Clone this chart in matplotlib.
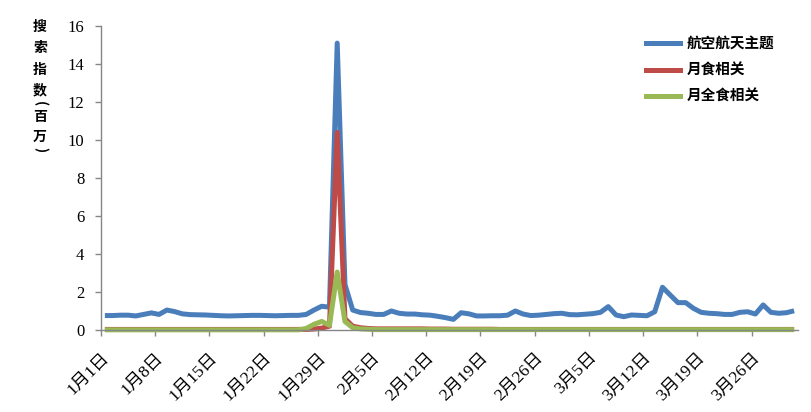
import matplotlib
matplotlib.use("Agg")
import matplotlib.pyplot as plt
from matplotlib.lines import Line2D

# ---- data (daily, 2018-01-01 .. 2018-03-31) ----
blue = [0.76, 0.76, 0.78, 0.78, 0.74, 0.82, 0.90, 0.82, 1.05, 0.97,
        0.85, 0.81, 0.80, 0.79, 0.77, 0.75, 0.74, 0.75, 0.76, 0.77,
        0.77, 0.76, 0.75, 0.76, 0.77, 0.77, 0.82, 1.05, 1.25, 1.20,
        15.10, 2.40, 1.05, 0.92, 0.88, 0.82, 0.82, 1.00, 0.88, 0.84,
        0.84, 0.80, 0.78, 0.72, 0.65, 0.56, 0.91, 0.85, 0.74, 0.74,
        0.75, 0.75, 0.78, 1.00, 0.84, 0.76, 0.78, 0.82, 0.86, 0.88,
        0.81, 0.80, 0.83, 0.86, 0.93, 1.23, 0.79, 0.70, 0.79, 0.77,
        0.75, 0.96, 2.25, 1.84, 1.44, 1.44, 1.14, 0.93, 0.88, 0.86,
        0.82, 0.82, 0.93, 0.96, 0.84, 1.32, 0.93, 0.88, 0.91, 1.01]
red = [0.03, 0.03, 0.03, 0.03, 0.03, 0.03, 0.03, 0.03, 0.03, 0.03,
       0.03, 0.03, 0.03, 0.03, 0.03, 0.03, 0.03, 0.03, 0.03, 0.03,
       0.03, 0.03, 0.03, 0.03, 0.03, 0.03, 0.03, 0.05, 0.10, 0.20,
       10.40, 0.60, 0.20, 0.12, 0.08, 0.06, 0.06, 0.06, 0.06, 0.06,
       0.06, 0.06, 0.05, 0.05, 0.05, 0.04, 0.04, 0.04, 0.04, 0.04,
       0.04, 0.03, 0.03, 0.03, 0.03, 0.03, 0.03, 0.03, 0.03, 0.03,
       0.03, 0.03, 0.03, 0.03, 0.03, 0.03, 0.03, 0.03, 0.03, 0.03,
       0.03, 0.03, 0.03, 0.03, 0.03, 0.03, 0.03, 0.03, 0.03, 0.03,
       0.03, 0.03, 0.03, 0.03, 0.03, 0.03, 0.03, 0.03, 0.03, 0.03]
green = [0.01, 0.01, 0.01, 0.01, 0.01, 0.01, 0.01, 0.01, 0.01, 0.01,
         0.01, 0.01, 0.01, 0.01, 0.01, 0.01, 0.01, 0.01, 0.01, 0.01,
         0.01, 0.01, 0.01, 0.01, 0.01, 0.01, 0.08, 0.30, 0.45, 0.25,
         3.05, 0.45, 0.12, 0.06, 0.04, 0.02, 0.02, 0.02, 0.02, 0.02,
         0.02, 0.02, 0.02, 0.02, 0.02, 0.02, 0.02, 0.02, 0.02, 0.02,
         0.02, 0.02, 0.02, 0.02, 0.02, 0.02, 0.02, 0.02, 0.02, 0.02,
         0.02, 0.02, 0.02, 0.02, 0.02, 0.02, 0.02, 0.02, 0.02, 0.02,
         0.02, 0.02, 0.02, 0.02, 0.02, 0.02, 0.02, 0.02, 0.02, 0.02,
         0.02, 0.02, 0.02, 0.02, 0.02, 0.02, 0.02, 0.02, 0.02, 0.02]
series_names = ["航空航天主题", "月食相关", "月全食相关"]
tick_labels = ["1月1日", "1月8日", "1月15日", "1月22日", "1月29日", "2月5日",
               "2月12日", "2月19日", "2月26日", "3月5日", "3月12日",
               "3月19日", "3月26日"]
y_ticks = [0, 2, 4, 6, 8, 10, 12, 14, 16]

colors = ["#4A7EBB", "#BE4B48", "#98B954"]
serif = ["Liberation Serif", "Noto Sans CJK SC"]
cjk = ["Noto Sans CJK SC", "DejaVu Sans"]

fig = plt.figure(figsize=(8.12, 4.12), dpi=100)
ax = fig.add_axes([101 / 812, 1 - 330 / 412, 697 / 812, 304 / 412])

n = len(blue)
x = [i + 0.5 for i in range(n)]
for vals, c in zip([blue, red, green], colors):
    ax.plot(x, vals, color=c, lw=3.6, solid_joinstyle="round",
            solid_capstyle="butt", clip_on=False)

ax.set_xlim(0, n)
ax.set_ylim(0, 16)
ax.set_yticks(y_ticks)
ax.set_yticklabels([str(v) for v in y_ticks], family=serif, fontsize=12)
ax.set_xticks(list(range(0, 7 * len(tick_labels), 7)))
ax.set_xticklabels(tick_labels, family=serif, fontsize=12.5, rotation=45,
                   ha="right", va="top", rotation_mode="anchor")

for s in ["top", "right"]:
    ax.spines[s].set_visible(False)
for s in ["left", "bottom"]:
    ax.spines[s].set_color("#868686")
    ax.spines[s].set_linewidth(1.0)
ax.tick_params(axis="both", direction="out", length=4, color="#868686",
               width=1.0)
ax.tick_params(axis="y", pad=8)
ax.tick_params(axis="x", pad=10)

# vertical y-axis label, stacked characters
ylab_chars = ["搜", "索", "指", "数", "(", "百", "万", ")"]
ylab_rot = [0, 0, 0, 0, -90, 0, 0, -90]
ylab_pos = [27, 48, 70, 90, 104, 117, 137, 150]
for ch, r, yp in zip(ylab_chars, ylab_rot, ylab_pos):
    fig.text(40 / 812, 1 - yp / 412, ch, family=cjk, fontsize=10,
             fontweight="bold", ha="center", va="center", rotation=r,
             rotation_mode="anchor")

handles = [Line2D([0], [0], color=c, lw=3.6) for c in colors]
leg = ax.legend(handles, series_names, loc="upper left",
                bbox_to_anchor=(633 / 812, 1 - 22 / 412),
                bbox_transform=fig.transFigure, frameon=False,
                prop={"family": cjk, "size": 10.5, "weight": "bold"},
                handlelength=2.3, handletextpad=0.5, labelspacing=0.72)

fig.savefig("out.png", dpi=100)
